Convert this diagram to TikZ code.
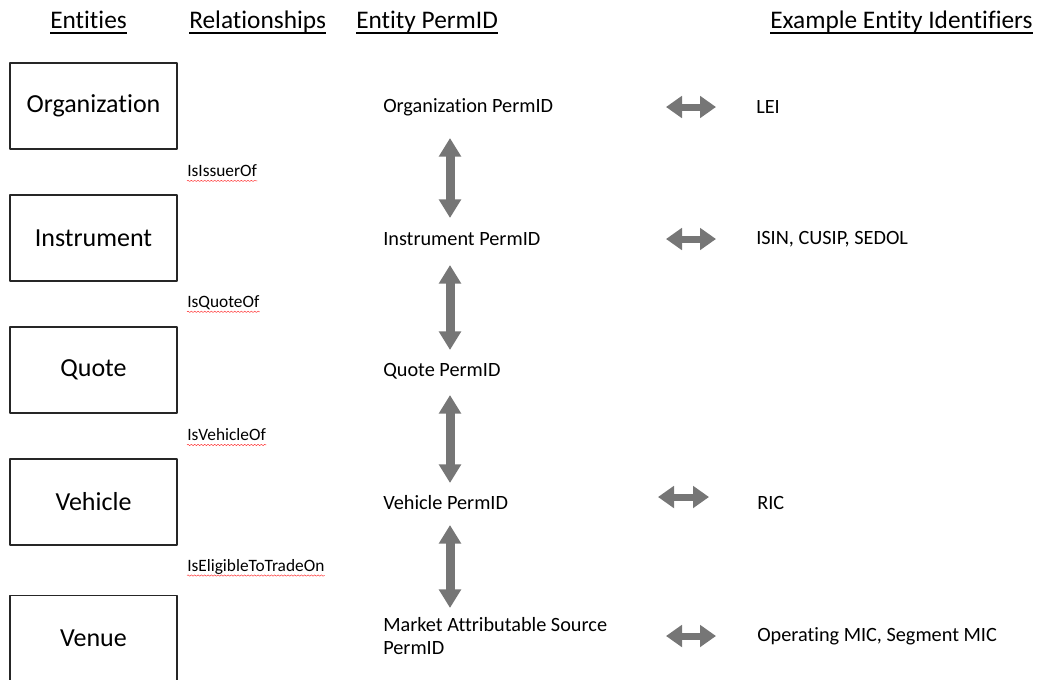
\documentclass[tikz,border=0pt]{standalone}
\usepackage{fontspec}
\setmainfont{Carlito}[Ligatures=NoCommon]
\usetikzlibrary{arrows.meta,calc,decorations.pathmorphing}
\definecolor{arrgray}{RGB}{118,118,118}

\begin{document}
\begin{tikzpicture}[line cap=round,line join=round,x=0.75pt,y=-0.75pt,
	head/.style={inner sep=0pt,anchor=base west,font=\fontsize{19}{23}\selectfont},
	uline/.style={line width=1.5pt,line cap=butt},
	entbox/.style={draw=black!85,line width=1.1pt,minimum width=125.25pt,minimum height=64.5pt,inner sep=0pt,font=\fontsize{19.5}{23}\selectfont},
	rel/.style={inner sep=0pt,anchor=west,font=\fontsize{13}{15}\selectfont},
	txt/.style={inner sep=0pt,anchor=west,align=left,font=\fontsize{15.2}{17.25}\selectfont},
	spell/.style={draw=red!80,line width=0.35pt,decorate,decoration={snake,amplitude=0.5pt,segment length=2.5pt}},
	vbar/.style={draw=arrgray,line width=6.75pt,line cap=butt,arrows={Triangle[width=16pt,length=14pt]-Triangle[width=16pt,length=14pt]}},
	hbar/.style={draw=arrgray,line width=5.25pt,line cap=butt,arrows={Triangle[width=16pt,length=12pt]-Triangle[width=16pt,length=12pt]}}]%PermID
	\clip (0,0) rectangle (1054,679);
	% column heads
	\node[head] (hent) at (50,28) {Entities};
	\node[head] (hrel) at (189,28) {Relationships};
	\node[head] (hid) at (356,28) {Entity PermID};
	\node[head] (hex) at (770,28) {Example Entity Identifiers};
	\foreach \h in {hent,hrel,hid,hex}
		\draw[uline] ($(\h.base west)+(0,5)$) -- ($(\h.base east)+(0,5)$);
	% entities
	\node[entbox] (org) at (93.5,106) {Organization};
	\node[entbox] (inst) at (93.5,238) {Instrument};
	\node[entbox] (quote) at (93.5,370) {Quote};
	\node[entbox] (veh) at (93.5,502) {Vehicle};
	\node[entbox] (venue) at (93.5,638.5) {Venue};
	% relationships
	\node[rel] (issuer) at (187,171) {IsIssuerOf};
	\node[rel] (quoteof) at (187,303) {IsQuoteOf};
	\node[rel] (vehof) at (187,435) {IsVehicleOf};
	\node[rel] (eligible) at (187,567) {IsEligibleToTradeOn};
	\foreach \r in {issuer,quoteof,vehof,eligible}
		\draw[spell] ($(\r.base west)+(0,4)$) -- ($(\r.base east)+(0,4)$);
	% permids
	\node[txt] (orgid) at (383,107) {Organization PermID};
	\node[txt] (instid) at (383,239) {Instrument PermID};
	\node[txt] (quoteid) at (383,371) {Quote PermID};
	\node[txt] (vehid) at (383,503) {Vehicle PermID};
	\node[txt] (masid) at (383,636) {Market Attributable Source\\PermID};
	\draw[vbar] ($(orgid.west)+(67,31)$) -- ($(instid.west)+(67,-21)$);
	\draw[vbar] ($(instid.west)+(67,26)$) -- ($(quoteid.west)+(67,-21)$);
	\draw[vbar] ($(quoteid.west)+(67,24)$) -- ($(vehid.west)+(67,-20)$);
	\draw[vbar] ($(vehid.west)+(67,22)$) -- ($(masid.west)+(67,-28)$);
	% identifiers
	\node[txt] (lei) at (756,107) {LEI};
	\node[txt] (isin) at (756,239) {ISIN, CUSIP, SEDOL};
	\node[txt] (ric) at (757,503) {RIC};
	\node[txt] (mic) at (757,636) {Operating MIC, Segment MIC};
	\draw[hbar] ($(lei.west)+(-90,0)$) -- ($(lei.west)+(-40,0)$);
	\draw[hbar] ($(isin.west)+(-90,0)$) -- ($(isin.west)+(-40,0)$);
	\draw[hbar] ($(ric.west)+(-99,-6)$) -- ($(ric.west)+(-48,-6)$);
	\draw[hbar] ($(mic.west)+(-91,0)$) -- ($(mic.west)+(-41,0)$);
\end{tikzpicture}
\end{document}
